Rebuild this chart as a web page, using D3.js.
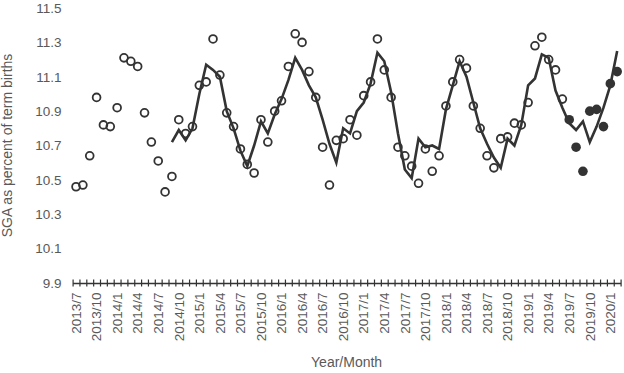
<!doctype html>
<html lang="en">
<head>
  <meta charset="utf-8">
  <title>SGA as percent of term births</title>
  <script type="text/javascript" src="https://cdnjs.cloudflare.com/ajax/libs/d3/7.8.5/d3.min.js"></script>
  <style>
    body { margin: 0; background: #fff; }
    text { font-family: "Liberation Sans", Arial, sans-serif; }
  </style>
</head>
<body>
  <svg width="624" height="373" id="svg"></svg>

<script type="text/javascript">

  // months on the category axis, 2013/7 .. 2020/2
  var months = [
    '2013/7','2013/8','2013/9','2013/10','2013/11','2013/12',
    '2014/1','2014/2','2014/3','2014/4','2014/5','2014/6','2014/7','2014/8','2014/9','2014/10','2014/11','2014/12',
    '2015/1','2015/2','2015/3','2015/4','2015/5','2015/6','2015/7','2015/8','2015/9','2015/10','2015/11','2015/12',
    '2016/1','2016/2','2016/3','2016/4','2016/5','2016/6','2016/7','2016/8','2016/9','2016/10','2016/11','2016/12',
    '2017/1','2017/2','2017/3','2017/4','2017/5','2017/6','2017/7','2017/8','2017/9','2017/10','2017/11','2017/12',
    '2018/1','2018/2','2018/3','2018/4','2018/5','2018/6','2018/7','2018/8','2018/9','2018/10','2018/11','2018/12',
    '2019/1','2019/2','2019/3','2019/4','2019/5','2019/6','2019/7','2019/8','2019/9','2019/10','2019/11','2019/12',
    '2020/1','2020/2'
  ];

  // labelled months (every third)
  var tickLabels = [
    '2013/7','2013/10','2014/1','2014/4','2014/7','2014/10','2015/1','2015/4','2015/7','2015/10',
    '2016/1','2016/4','2016/7','2016/10','2017/1','2017/4','2017/7','2017/10','2018/1','2018/4',
    '2018/7','2018/10','2019/1','2019/4','2019/7','2019/10','2020/1'
  ];

  var yTicks = [9.9, 10.1, 10.3, 10.5, 10.7, 10.9, 11.1, 11.3, 11.5];

  // observed, 2013/7 .. 2019/6 (open circles)
  var observed = [
    10.46, 10.47, 10.64, 10.98, 10.82, 10.81, 10.92, 11.21, 11.19, 11.16, 10.89, 10.72,
    10.61, 10.43, 10.52, 10.85, 10.77, 10.81, 11.05, 11.07, 11.32, 11.11, 10.89, 10.81,
    10.68, 10.59, 10.54, 10.85, 10.72, 10.90, 10.96, 11.16, 11.35, 11.30, 11.13, 10.98,
    10.69, 10.47, 10.73, 10.74, 10.85, 10.76, 10.99, 11.07, 11.32, 11.14, 10.98, 10.69,
    10.64, 10.58, 10.48, 10.68, 10.55, 10.64, 10.93, 11.07, 11.20, 11.15, 10.93, 10.80,
    10.64, 10.57, 10.74, 10.75, 10.83, 10.82, 10.95, 11.28, 11.33, 11.20, 11.14, 10.97
  ];

  // observed, 2019/7 .. 2020/2 (filled circles)
  var observedLate = [10.85, 10.69, 10.55, 10.90, 10.91, 10.81, 11.06, 11.13];

  // fitted line, 2014/9 .. 2020/2
  var fitted = [
    10.72, 10.79, 10.73, 10.80, 11.00, 11.17, 11.14, 11.10, 10.90, 10.80, 10.67, 10.58,
    10.70, 10.84, 10.77, 10.88, 10.97, 11.08, 11.21, 11.14, 11.05, 10.98, 10.85, 10.71,
    10.60, 10.80, 10.77, 10.90, 10.95, 11.06, 11.24, 11.19, 11.01, 10.77, 10.56, 10.51,
    10.74, 10.69, 10.70, 10.68, 10.91, 11.05, 11.19, 11.10, 10.95, 10.80, 10.71, 10.63,
    10.57, 10.74, 10.70, 10.82, 11.05, 11.09, 11.23, 11.21, 11.02, 10.92, 10.83, 10.79,
    10.84, 10.72, 10.81, 10.92, 11.05, 11.25
  ];

  var plotL = 72.6, plotR = 620.6, plotT = 8, plotB = 283;
  var ink = '#333333', grey = '#595959';

  var x = d3.scaleBand()
    .domain(months)
    .range([plotL, plotR])
    .padding(0);

  var cx = function(m) { return x(m) + x.bandwidth() / 2; };

  var y = d3.scaleLinear()
    .domain([9.9, 11.5])
    .range([plotB, plotT]);

  var svg = d3.select('#svg');

  // y labels, no axis line
  var yAxis = svg.append('g')
    .attr('transform', 'translate(' + (plotL - 11) + ',0)')
    .call(d3.axisLeft(y).tickValues(yTicks).tickFormat(d3.format('.1f')).tickSize(0).tickPadding(0));
  yAxis.select('.domain').remove();
  yAxis.selectAll('text')
    .attr('fill', grey)
    .style('font-size', '13.5px');

  // x axis: tick marks sit on month boundaries
  var xEdge = d3.scaleLinear()
    .domain([0, months.length])
    .range([plotL, plotR]);

  var xMarks = svg.append('g')
    .attr('transform', 'translate(0,' + plotB + ')')
    .call(d3.axisBottom(xEdge).tickValues(d3.range(0, months.length + 1)).tickSizeInner(0).tickSizeOuter(0).tickFormat(''));
  xMarks.select('.domain').attr('stroke', ink).attr('stroke-width', 1.3);
  xMarks.selectAll('.tick line')
    .attr('y1', -3.5)
    .attr('y2', 3.5)
    .attr('stroke', ink)
    .attr('stroke-width', 1.2);

  var xLabels = svg.append('g')
    .attr('transform', 'translate(0,' + plotB + ')')
    .call(d3.axisBottom(x).tickValues(tickLabels).tickSize(0));
  xLabels.select('.domain').remove();
  xLabels.selectAll('text')
    .attr('fill', grey)
    .style('font-size', '13.5px')
    .attr('text-anchor', 'end')
    .attr('transform', 'rotate(-90)')
    .attr('x', -9.5)
    .attr('y', 0)
    .attr('dy', '0.35em');

  // fitted line
  var line = d3.line()
    .x(function(d) { return cx(d.m); })
    .y(function(d) { return y(d.v); });

  var fitStart = months.indexOf('2014/9');
  svg.append('path')
    .datum(fitted.map(function(v, i) { return { m: months[fitStart + i], v: v }; }))
    .attr('d', line)
    .attr('fill', 'none')
    .attr('stroke', ink)
    .attr('stroke-width', 2.6)
    .attr('stroke-linejoin', 'miter');

  // open circles
  svg.append('g').selectAll('circle')
    .data(observed.map(function(v, i) { return { m: months[i], v: v }; }))
    .enter().append('circle')
    .attr('cx', function(d) { return cx(d.m); })
    .attr('cy', function(d) { return y(d.v); })
    .attr('r', 3.9)
    .attr('fill', 'none')
    .attr('stroke', ink)
    .attr('stroke-width', 1.8);

  // filled circles
  var lateStart = months.indexOf('2019/7');
  svg.append('g').selectAll('circle')
    .data(observedLate.map(function(v, i) { return { m: months[lateStart + i], v: v }; }))
    .enter().append('circle')
    .attr('cx', function(d) { return cx(d.m); })
    .attr('cy', function(d) { return y(d.v); })
    .attr('r', 4.8)
    .attr('fill', ink);

  // axis titles
  svg.append('text')
    .attr('x', (plotL + plotR) / 2)
    .attr('y', 367)
    .attr('text-anchor', 'middle')
    .attr('fill', grey)
    .style('font-size', '14px')
    .text('Year/Month');

  svg.append('text')
    .attr('transform', 'translate(12,' + (plotT + plotB) / 2 + ') rotate(-90)')
    .attr('text-anchor', 'middle')
    .attr('fill', grey)
    .style('font-size', '14px')
    .text('SGA as percent of term births');

</script>
</body>
</html>
